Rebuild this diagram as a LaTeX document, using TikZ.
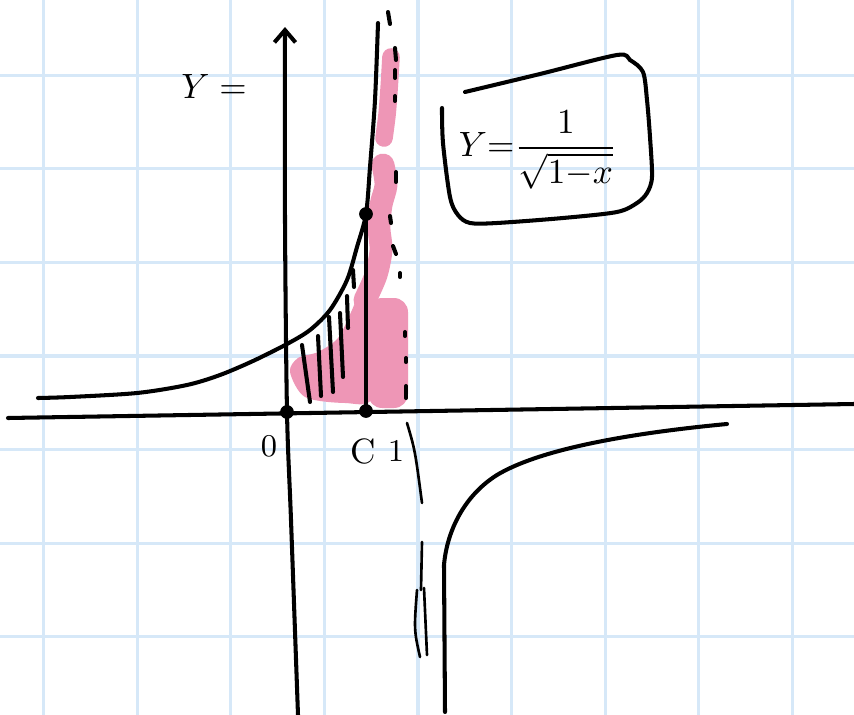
\documentclass[tikz,border=0pt]{standalone}
\usepackage{tkz-euclide}
\usetikzlibrary{arrows.meta}
\definecolor{GridClr}{RGB}{214,232,248}
\definecolor{PinkClr}{RGB}{238,150,182}

\begin{document}
\begin{tikzpicture}[x=0.01cm,y=-0.01cm,line cap=round,line join=round,
  gridln/.style={GridClr,line width=0.9pt},
  ink/.style={line width=1.15pt},
  thinink/.style={line width=0.75pt},
  hilite/.style={PinkClr,line width=5pt},
  lbl/.style={inner sep=0pt}]
\tkzSetUpPoint[fill=black]
\useasboundingbox (0,0) rectangle (854,715);
\fill[white] (0,0) rectangle (854,715);

% squared paper
\foreach \k in {0,...,8}
  \draw[gridln] ({43.6+93.6*\k},0) -- ({43.6+93.6*\k},715);
\foreach \k in {0,...,6}
  \draw[gridln] (0,{75.2+93.6*\k}) -- (854,{75.2+93.6*\k});

\tkzDefPoints{287/412/O,366/411/C,366/214/P}

% pink marker
\draw[hilite] plot[smooth] coordinates {(391,57) (389,90) (387,115) (384,138)};
\draw[hilite,line width=6.5pt] plot[smooth] coordinates {(383,165) (386,185) (381,205) (379,228) (381,250) (376,275) (365,300)};
\fill[PinkClr] plot[smooth cycle] coordinates {(290,372) (298,358) (318,352) (338,338) (352,310) (362,285) (370,275) (372,330) (372,398) (345,403) (305,397)};
\fill[PinkClr,rounded corners=4pt] (368,298) rectangle (408,408);

% hatching
\foreach \xa/\ya/\xb/\yb in {302/345/310/402,318/336/321/396,329/317/333/392,
    340/313/343/377,347/296/348/328,353/270/354/287}
  \draw[ink] (\xa,\ya) -- (\xb,\yb);

% axes
\draw[ink] (8,418) -- (854,404);
\draw[ink,-{Straight Barb[length=3.5pt,width=6pt]}] plot[smooth] coordinates {(298,715) (291,520) (287,412) (285,220) (285,27)};

% graph
\draw[ink] plot[smooth,tension=0.5] coordinates {(38,398) (70,397) (137,393) (187,385) (220,375) (253,361) (287,344) (310,330) (330,310) (347,280) (357,247) (366,214) (370,167) (375,100) (378,23)};
\draw[ink] (445,712) -- (444,565) .. controls (447,530) and (465,495) .. (497,475)
  .. controls (530,455) and (600,436) .. (727,424);
\tkzDrawSegments[ink](P,C)

% asymptote x=1
\foreach \xa/\ya/\xb/\yb in {388/12/390/24,395/48/396/60,395/70/395/78,395/96/395/101,
    396/172/396/182,390/216/391/223,393/246/396/254,400/273/400/277,
    405/332/405/336,406/358/406/362,406/386/406/398}
  \draw[ink] (\xa,\ya) -- (\xb,\yb);
\draw[thinink] (407,423) .. controls (415,450) .. (422,503);
\draw[thinink] (422,542) -- (421,590);
\draw[thinink] (417,590) .. controls (414,630) .. (420,657);
\draw[thinink] (424,588) -- (427,655);

\tkzDrawPoints[size=3.5](O,C,P)

% frame round the formula
\draw[ink] plot[smooth] coordinates {(442,108) (443,143) (450,197) (458,215) (470,223) (497,223) (563,218) (617,212) (637,203) (647,193) (652,177) (650,137) (647,100) (643,72) (630,60) (617,55) (540,74) (465,92)};

% labels
\node[lbl,font=\normalsize] (labY) at (214,86) {$Y=$};
\node[lbl,font=\normalsize] (frm) at (538,150) {$\displaystyle Y{=}\frac{1}{\sqrt{1{-}x}}$};
\node[lbl,font=\small] (labO) at (269,446) {0};
\node[lbl,font=\normalsize] (labC) at (363,451) {C};
\node[lbl,font=\small] (labI) at (396,451) {1};

\end{tikzpicture}
\end{document}
